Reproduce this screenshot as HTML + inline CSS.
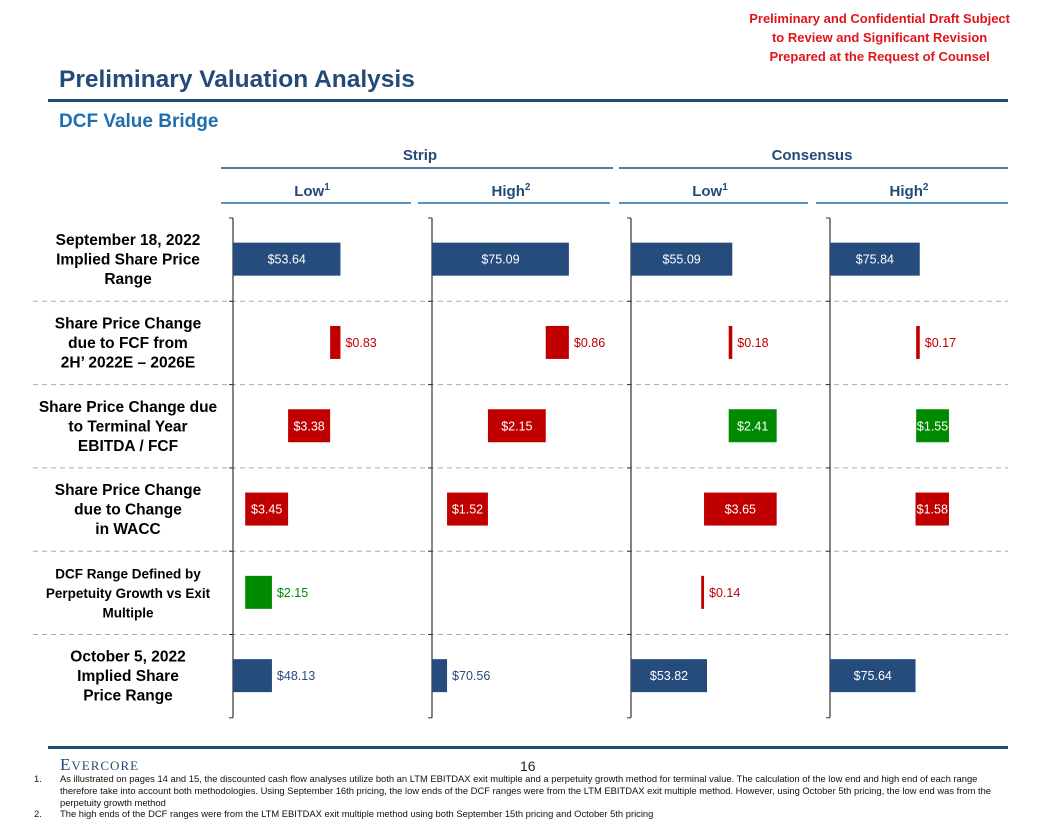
<!DOCTYPE html>
<html><head><meta charset="utf-8"><style>
body{margin:0;width:1056px;height:816px;background:#fff;font-family:"Liberation Sans",Arial,sans-serif;overflow:hidden;position:relative}
.a{position:absolute}
</style></head><body>
<div class="a" style="right:46px;top:9px;text-align:center;color:#e0141b;font-weight:bold;font-size:13px;line-height:19px">Preliminary and Confidential Draft Subject<br>to Review and Significant Revision<br>Prepared at the Request of Counsel</div>
<div class="a" style="left:59px;top:66px;color:#244a7a;font-weight:bold;font-size:24.5px">Preliminary Valuation Analysis</div>
<div class="a" style="left:48px;top:99px;width:960px;height:3px;background:#244a7a"></div>
<div class="a" style="left:59px;top:111px;color:#1f6fae;font-weight:bold;font-size:19px">DCF Value Bridge</div>
<svg class="a" style="left:0;top:0" width="1056" height="816" id="chart"></svg>
<div class="a" style="left:48px;top:746px;width:960px;height:3px;background:#244a7a"></div>
<div class="a" style="left:60px;top:755px;color:#244a7a;font-family:'Liberation Serif',serif;font-size:17px;letter-spacing:1px">E<span style="font-size:13px">VERCORE</span></div>
<div class="a" style="left:520px;top:758px;font-size:14px;color:#222">16</div>
<div class="a" style="left:34px;top:773px;width:976px;font-size:9.4px;line-height:11.8px;color:#111">
<div style="display:flex"><span style="width:26px;flex:none">1.</span><span style="flex:1">As illustrated on pages 14 and 15, the discounted cash flow analyses utilize both an LTM EBITDAX exit multiple and a perpetuity growth method for terminal value. The calculation of the low end and high end of each range therefore take into account both methodologies. Using September 16th pricing, the low ends of the DCF ranges were from the LTM EBITDAX exit multiple method. However, using October 5th pricing, the low end was from the perpetuity growth method</span></div>
<div style="display:flex"><span style="width:26px;flex:none">2.</span><span style="flex:1">The high ends of the DCF ranges were from the LTM EBITDAX exit multiple method using both September 15th pricing and October 5th pricing</span></div>
</div>
<script>
const panelNames=["strip-low","strip-high","consensus-low","consensus-high"];
const startValues=[53.64,75.09,55.09,75.84];
const fcfChange=[-0.83,-0.86,-0.18,-0.17];
const terminalChange=[-3.38,-2.15,2.41,1.55];
const waccChange=[-3.45,-1.52,-3.65,-1.58];
const methodChange=[2.15,0,-0.14,0];
const endValues=[48.13,70.56,53.82,75.64];
const domainMin=[45,70,50,71.6];
const domainMax=[61,77.4,60,81];
const rowLabels=[["September 18, 2022","Implied Share Price","Range"],["Share Price Change","due to FCF from","2H’ 2022E – 2026E"],["Share Price Change due","to Terminal Year","EBITDA / FCF"],["Share Price Change","due to Change","in WACC"],["DCF Range Defined by","Perpetuity Growth vs Exit","Multiple"],["October 5, 2022","Implied Share","Price Range"]];
const NS="http://www.w3.org/2000/svg";const svg=document.getElementById('chart');
function mk(t,a,txt){const e=document.createElementNS(NS,t);for(const k in a)e.setAttribute(k,a[k]);if(txt!=null)e.textContent=txt;svg.appendChild(e);return e;}
const axX=[233,432,631,830],pw=199,rowTop=218,rowH=83.3;
function xs(p,v){return axX[p]+(v-domainMin[p])/(domainMax[p]-domainMin[p])*pw;}
const BLUE="#264b7d",RED="#c00000",GREEN="#008a00";
[["Strip",420,221,613],["Consensus",812,619,1008]].forEach(h=>{let t=mk('text',{x:h[1],y:160,'text-anchor':'middle','font-size':15,'font-weight':'bold',fill:'#244a7a'},h[0]);let l=mk('line',{x1:h[2],x2:h[3],y1:168,y2:168,stroke:'#244a7a','stroke-width':1.5});});
[["Low","1"],["High","2"],["Low","1"],["High","2"]].forEach((h,i)=>{const cx=[312,511,710,909][i];let t=mk('text',{x:cx,y:196,'text-anchor':'middle','font-size':15,'font-weight':'bold',fill:'#244a7a'});t.innerHTML=h[0]+'<tspan font-size="10" dy="-6">'+h[1]+'</tspan>';let l=mk('line',{x1:[221,418,619,816][i],x2:[411,610,808,1008][i],y1:203,y2:203,stroke:'#1f6fae','stroke-width':1.5});});
for(let r=1;r<6;r++){const y=rowTop+r*rowH;let l=mk('line',{x1:33,x2:1008,y1:y,y2:y,stroke:'#aaa','stroke-dasharray':'5,4'});}
rowLabels.forEach((ls,r)=>{const cy=rowTop+r*rowH+rowH/2;const fs=r==4?13.5:15.5;ls.forEach((s,j)=>{let t=mk('text',{x:128,y:cy+(j-1)*19.5+5,'text-anchor':'middle','font-size':fs,'font-weight':'bold',fill:'#000'},s);});});
axX.forEach(x=>{let l=mk('line',{x1:x,x2:x,y1:rowTop,y2:rowTop+6*rowH,stroke:'#333','stroke-width':1.2});for(let r=0;r<=6;r++){let t=mk('line',{x1:x-4,x2:x,y1:rowTop+r*rowH,y2:rowTop+r*rowH,stroke:'#333'});}});
function bar(p,r,v0,v1,color,val){const a=Math.min(xs(p,v0),xs(p,v1)),b=Math.max(xs(p,v0),xs(p,v1));const w=Math.max(b-a,2);const y=rowTop+r*rowH+rowH/2-17;
let re=mk('rect',{x:a,y:y,width:w,height:33,fill:color});
const inside=w>=41||(w>=28&&r<5);let t=mk('text',{x:inside?a+w/2:b+5,y:y+21,'text-anchor':inside?'middle':'start','font-size':12.5,fill:inside?'#fff':color},val);}
for(let p=0;p<4;p++){let v=startValues[p];bar(p,0,domainMin[p],v,BLUE,'$'+startValues[p].toFixed(2));
const ch=[fcfChange[p],terminalChange[p],waccChange[p],methodChange[p]];
ch.forEach((c,i)=>{if(c===0)return;const n=v+c;bar(p,i+1,v,n,c<0?RED:GREEN,'$'+Math.abs(c).toFixed(2));v=n;});
bar(p,5,domainMin[p],endValues[p],BLUE,'$'+endValues[p].toFixed(2));}
</script>
</body></html>
